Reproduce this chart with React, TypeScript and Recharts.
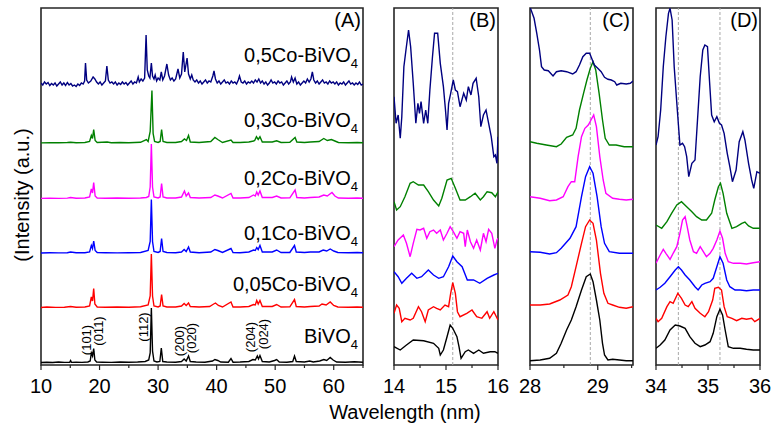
import React from 'react'
import { LineChart, Line, XAxis, YAxis, ReferenceLine, ReferenceArea } from 'recharts'

type Pt = [number, number]

const FONT = '"Liberation Sans", Arial, Helvetica, sans-serif'

// sample names, bottom trace first
const SAMPLES = ['BiVO', '0,05Co-BiVO', '0,1Co-BiVO', '0,2Co-BiVO', '0,3Co-BiVO', '0,5Co-BiVO']
const COLORS = ['#000000', '#ff0000', '#0000ff', '#ff00ff', '#008000', '#000080']

// (A) full pattern: peak height above each trace's own baseline, traces stacked by OFFSETS_A
const OFFSETS_A = [2, 57, 111.5, 166, 221.5, 281]

const aBiVO4: Pt[] = [
  [10, 0.5], [11, 0.8], [12, 0.5], [13, 1], [14, 0.6], [14.9, 0.8], [15.05, 2.5], [15.2, 0.6], [16, 0.8], [17, 0.6],
  [18, 1], [18.4, 2], [18.6, 10], [18.8, 7], [19.0, 14.5], [19.2, 3], [19.5, 1], [20.5, 0.8], [22, 0.6], [23.5, 1],
  [25, 0.8], [26.5, 1], [27.8, 1.5], [28.4, 3], [28.65, 10], [28.85, 55], [29.05, 12], [29.3, 2], [29.8, 1], [30.3, 1.5],
  [30.55, 15], [30.8, 1.5], [31.5, 1], [33, 0.8], [34, 1.5], [34.45, 4], [34.8, 2], [35.2, 7], [35.5, 1.5], [36.5, 1],
  [38, 0.8], [39.3, 2], [39.7, 3.5], [40.2, 2.5], [40.7, 1], [42, 0.8], [42.45, 4.5], [42.8, 0.8], [44, 1], [45.5, 1.5],
  [46.2, 3.5], [46.6, 3], [46.95, 7], [47.15, 4], [47.4, 7.5], [47.8, 1.5], [49, 1], [49.9, 2.5], [50.25, 3.5], [50.7, 1],
  [52, 0.8], [53, 1.5], [53.3, 7], [53.6, 1.5], [55, 1], [55.9, 2], [56.5, 1], [57.6, 2], [58.3, 3.5], [58.8, 2.5],
  [59.4, 5.5], [59.9, 3], [60.5, 1], [62, 0.8], [63.5, 1.2], [65, 0.8],
]

const aCo005: Pt[] = [
  [10, 0.5], [11, 1], [12.5, 0.6], [14, 0.8], [15.05, 1.5], [16, 0.7], [17.5, 1], [18.3, 2], [18.6, 11], [18.8, 7],
  [19.0, 19.5], [19.2, 4], [19.6, 1], [21, 0.8], [23, 1], [25, 0.7], [27, 1.2], [28.3, 3], [28.65, 12], [28.85, 54],
  [29.05, 12], [29.3, 2], [30, 1], [30.35, 2], [30.6, 13.5], [30.85, 2], [31.5, 1], [33, 1], [34, 2], [34.45, 4.5],
  [34.8, 2.5], [35.2, 5], [35.5, 1.5], [37, 1], [38.8, 1.5], [39.5, 4], [39.8, 5], [40.3, 2.5], [41, 1], [42.45, 6],
  [42.8, 1], [44, 1], [45.5, 1.5], [46.3, 3.5], [46.6, 3], [46.85, 7.5], [47.1, 4], [47.4, 7.5], [47.8, 1.5], [49.5, 1.5],
  [50.25, 3.5], [51, 1], [52.5, 1.2], [53.3, 8.5], [53.6, 1.5], [55, 1], [56, 1.5], [57.5, 2], [58, 4], [58.7, 3],
  [59.4, 6], [60, 2.5], [60.7, 1], [62.5, 0.8], [64, 1], [65, 0.8],
]

const aCo01: Pt[] = [
  [10, 0.5], [11.5, 0.8], [13, 0.6], [14.5, 0.8], [15.05, 1.5], [16, 0.7], [17.5, 0.8], [18.3, 1.5], [18.6, 8], [18.8, 5],
  [19.0, 12.5], [19.25, 3], [19.6, 1], [21, 0.8], [23, 0.6], [25, 0.8], [27, 1], [28.3, 3], [28.65, 12], [28.85, 54],
  [29.05, 12], [29.3, 2], [30, 1], [30.35, 2], [30.6, 15], [30.85, 2], [31.5, 1], [33, 0.8], [34, 1.5], [34.45, 4],
  [34.8, 2], [35.2, 6.5], [35.5, 1.5], [37, 0.8], [39, 1.5], [39.7, 4], [40.2, 3], [41, 1], [42.45, 5], [42.8, 1],
  [44, 0.8], [45.5, 1.5], [46.3, 3.5], [46.6, 3], [46.85, 6], [47.1, 4], [47.4, 8], [47.8, 1.5], [49.5, 1.5], [50.25, 3.5],
  [51, 1], [52.5, 1], [53.3, 8], [53.6, 1.5], [55, 1], [56, 1.5], [57.5, 1.5], [58.2, 3.5], [58.8, 2.5], [59.4, 4.5],
  [60, 2.5], [60.7, 1], [62.5, 0.8], [64, 1], [65, 0.8],
]

const aCo02: Pt[] = [
  [10, 0.6], [11.5, 0.8], [13, 0.6], [14.5, 0.9], [15.05, 1.5], [16, 0.7], [17.5, 1], [18.3, 2], [18.6, 10], [18.8, 6],
  [19.0, 16.5], [19.25, 3], [19.6, 1], [21, 0.8], [23, 1], [25, 0.7], [27, 1], [28.0, 1.5], [28.4, 2.5], [28.65, 12],
  [28.85, 55], [29.05, 12], [29.3, 2], [30, 1], [30.35, 2], [30.6, 15.5], [30.85, 2], [31.5, 1], [33, 1], [34, 2],
  [34.5, 8], [34.8, 3], [35.2, 6], [35.5, 1.5], [37, 1], [39, 1.5], [39.7, 4], [40.2, 3], [41, 1], [42.45, 5.5],
  [42.8, 1], [44, 1], [45.5, 1.5], [46.3, 4], [46.6, 3], [46.85, 7], [47.1, 4], [47.4, 8], [47.8, 1.5], [49.5, 1.5],
  [50.25, 3], [51, 1], [52.5, 1.2], [53.4, 9], [53.7, 1.5], [55, 1], [56, 1.5], [57.5, 2], [58.3, 4], [58.9, 3],
  [59.7, 6.5], [60.2, 3], [60.8, 1], [62.5, 0.8], [64, 1], [65, 0.8],
]

const aCo03: Pt[] = [
  [10, 0.6], [11.5, 0.8], [13, 0.7], [14.5, 1], [15.05, 1.2], [16, 0.8], [17.5, 1], [18.3, 2], [18.6, 8], [18.8, 5],
  [19.0, 14], [19.25, 3], [19.6, 1], [21.3, 1.5], [22, 0.8], [23.5, 1], [25, 0.8], [27, 1.2], [28.0, 4], [28.3, 2],
  [28.65, 12], [28.95, 53], [29.15, 10], [29.4, 2], [30, 1], [30.35, 2], [30.6, 14], [30.85, 2], [31.5, 1], [33, 1],
  [34, 2], [34.5, 4.5], [34.85, 3], [35.2, 8], [35.5, 1.5], [37, 1], [39, 2], [39.7, 6], [40.2, 4], [41, 1],
  [42.45, 3.5], [42.8, 1], [44, 1], [45.5, 1.5], [46.3, 2.5], [46.5, 3], [46.8, 6.7], [47.1, 4], [47.4, 6.7], [47.8, 1.5],
  [49.5, 1.5], [50.25, 2.7], [51, 1], [52.5, 1.2], [53.4, 6], [53.7, 1.5], [55, 1], [56, 1.5], [57.5, 2], [58.3, 5],
  [58.9, 3], [59.6, 4], [60.2, 2.5], [60.8, 1], [62.5, 0.8], [64, 1], [65, 0.8],
]

const aCo05: Pt[] = [
  [10, 1], [10.3, -1], [10.6, 2], [10.9, 0], [11.2, 1.5], [11.5, -1.5], [11.8, 0.5], [12.1, -1], [12.4, 1], [12.7, -2],
  [13.0, 0], [13.3, 2], [13.6, -1], [13.9, 1], [14.2, -1.5], [14.5, 1.5], [14.8, -1], [15.1, 0.5], [15.4, -2], [15.7, -1],
  [16.0, -2.5], [16.3, 0], [16.6, -1.5], [16.9, 1], [17.2, 0], [17.45, 3], [17.6, 21], [17.8, 4], [18.1, 1], [18.5, 3],
  [18.9, 7], [19.2, 5], [19.5, 2], [19.8, 0], [20.1, 2], [20.4, -1], [20.7, 1], [21.0, 3], [21.25, 18], [21.5, 4],
  [21.8, 1], [22.1, 2], [22.4, 0], [22.7, 2], [23.0, -1], [23.3, 1], [23.6, -0.5], [23.9, 2], [24.2, 0], [24.5, 1.5],
  [24.8, -1], [25.1, 1], [25.4, 3], [25.7, 0], [26.0, 2], [26.3, 1], [26.6, 7], [26.8, 2], [27.1, 5], [27.4, 3],
  [27.7, 6], [27.95, 49], [28.15, 14], [28.4, 8], [28.6, 6], [28.85, 21], [29.05, 8], [29.3, 5], [29.5, 9], [29.75, 3],
  [30.0, 6], [30.3, 4], [30.55, 12], [30.8, 4], [31.1, 8], [31.5, 20], [31.8, 9], [32.1, 4], [32.4, 6], [32.7, 3],
  [33.0, 5], [33.4, 15], [33.7, 6], [34.0, 10], [34.3, 32], [34.55, 12], [34.95, 26], [35.2, 10], [35.5, 5], [35.75, 9],
  [36.0, 4], [36.3, 2], [36.6, 4], [36.9, 1], [37.2, 3], [37.5, 0], [37.8, 2], [38.1, 4], [38.4, 1], [38.7, 3],
  [39.0, 2], [39.35, 8], [39.55, 13], [39.8, 5], [40.1, 1], [40.4, 3], [40.7, 0], [41.0, 2], [41.3, 4], [41.6, 1],
  [41.9, 2], [42.2, 0], [42.5, 3], [42.8, 1], [43.1, 2], [43.4, 0], [43.7, 4], [43.9, 8], [44.2, 2], [44.5, 1],
  [44.8, 3], [45.1, 0], [45.4, 2], [45.7, 1], [46.0, 3], [46.3, 1], [46.6, 4], [46.9, 2], [47.2, 5], [47.5, 1],
  [47.8, 3], [48.1, 0], [48.4, 2], [48.7, -1], [49.0, 1], [49.3, 4], [49.6, 1], [49.9, 2], [50.2, 0], [50.5, 3],
  [50.8, 1], [51.1, 2], [51.4, -1], [51.7, 1], [52.0, 3], [52.3, 0], [52.6, 2], [52.8, 7], [53.1, 2], [53.4, 6],
  [53.7, 0], [54.0, 2], [54.3, -1], [54.6, 1], [54.9, 3], [55.2, 1], [55.5, 5], [55.8, 2], [56.1, 5], [56.35, 12],
  [56.6, 4], [56.9, 1], [57.2, 3], [57.5, 0], [57.8, 2], [58.1, 4], [58.4, 1], [58.7, 2], [59.0, 0], [59.3, 3],
  [59.6, 1], [59.9, 2], [60.2, 0], [60.5, 2], [60.8, -1], [61.1, 1], [61.4, 0], [61.7, 2], [62.0, -1], [62.3, 1],
  [62.6, 3], [62.9, 0], [63.2, 1], [63.5, -1], [63.8, 1], [64.1, -0.5], [64.4, 2], [64.7, -1], [65, 0],
]

// (B) 14-16 zoom, stacked intensities as plotted
const bBiVO4: Pt[] = [
  [14.0, 18.3], [14.12, 15], [14.24, 20], [14.37, 25], [14.57, 24.3], [14.76, 21.7], [14.86, 16.7], [14.89, 10],
  [14.95, 15], [15.02, 28.3], [15.08, 40], [15.13, 36.7], [15.21, 28.3], [15.25, 18.3], [15.29, 6.7], [15.37, 13.3],
  [15.43, 15], [15.53, 11.7], [15.63, 15], [15.72, 11.7], [15.85, 13.3], [15.94, 13.3], [16.0, 11.7],
]
const bCo005: Pt[] = [
  [14.0, 51.7], [14.05, 60], [14.1, 56.7], [14.15, 43.3], [14.21, 46.7], [14.31, 45], [14.37, 46.7], [14.47, 58.3],
  [14.53, 53.3], [14.6, 43.3], [14.66, 55], [14.76, 58.3], [14.82, 56.7], [14.89, 55], [14.98, 60], [15.05, 58.3],
  [15.09, 71.7], [15.13, 82.3], [15.18, 71.7], [15.22, 53.3], [15.27, 48.3], [15.4, 51.7], [15.5, 55], [15.59, 48.3],
  [15.69, 46.7], [15.79, 53.3], [15.84, 46.7], [15.92, 53.3], [16.0, 45],
]
const bCo01: Pt[] = [
  [14.0, 93.3], [14.08, 88.3], [14.15, 81.7], [14.24, 86.7], [14.34, 91.7], [14.44, 86.7], [14.53, 88.3], [14.66, 95],
  [14.76, 90], [14.86, 86.7], [14.95, 88.3], [15.05, 98.3], [15.13, 109], [15.21, 103.3], [15.31, 98.3], [15.41, 85],
  [15.53, 85], [15.65, 81.7], [15.79, 86.7], [15.92, 90], [16.0, 91.7],
]
const bCo02: Pt[] = [
  [14.0, 118.3], [14.08, 125], [14.18, 130], [14.24, 121.7], [14.31, 108.3], [14.37, 121.7], [14.44, 135.7], [14.5, 135],
  [14.57, 136.7], [14.63, 126.7], [14.69, 133.3], [14.76, 135], [14.82, 131.7], [14.89, 135], [14.95, 125], [15.02, 131.7],
  [15.08, 138.3], [15.14, 133.3], [15.21, 126.7], [15.27, 133.3], [15.34, 131.7], [15.37, 118.3], [15.41, 135], [15.47, 123.3],
  [15.53, 116.7], [15.59, 125], [15.66, 115], [15.72, 131.7], [15.77, 123.3], [15.82, 135.7], [15.88, 131.7], [15.94, 116.7],
  [15.98, 125], [16.0, 126.7],
]
const bCo03: Pt[] = [
  [14.0, 163.3], [14.05, 155], [14.12, 158.3], [14.21, 168.3], [14.31, 181.7], [14.37, 183.3], [14.47, 180], [14.57, 180],
  [14.66, 173.3], [14.76, 165], [14.86, 159], [14.92, 166.7], [15.02, 185], [15.1, 186.7], [15.18, 176.7], [15.27, 165],
  [15.37, 165], [15.47, 168.3], [15.56, 171.7], [15.66, 165], [15.72, 168.3], [15.79, 173.3], [15.88, 172.3], [15.95, 168.3],
  [16.0, 173.3],
]
const bCo05: Pt[] = [
  [14.0, 268.3], [14.04, 241.7], [14.08, 250], [14.12, 226.7], [14.15, 248.3], [14.19, 298.3], [14.23, 315], [14.28, 335],
  [14.32, 318.3], [14.37, 281.7], [14.42, 241.7], [14.46, 261.7], [14.49, 251.7], [14.52, 263.3], [14.57, 241.7], [14.61, 255],
  [14.65, 241.7], [14.69, 275], [14.74, 308.3], [14.78, 331.7], [14.84, 331.7], [14.89, 301.7], [14.95, 278.3], [14.99, 255],
  [15.02, 235], [15.05, 261.7], [15.09, 271.7], [15.14, 285], [15.18, 275], [15.22, 273.3], [15.27, 258.3], [15.34, 271.7],
  [15.39, 265], [15.43, 278.3], [15.48, 270], [15.52, 281.7], [15.58, 286.7], [15.63, 268.3], [15.67, 238.3], [15.72, 250],
  [15.77, 255], [15.82, 241.7], [15.87, 228.3], [15.92, 208.3], [15.95, 210], [15.98, 201.7], [16.0, 228.3],
]

// (C) 28-29.5 zoom
const cBiVO4: Pt[] = [
  [28.0, 4.3], [28.15, 5], [28.29, 6.7], [28.39, 11.7], [28.46, 21.7], [28.54, 35], [28.61, 45], [28.68, 58.3],
  [28.76, 75], [28.83, 88.3], [28.89, 91], [28.93, 83.3], [28.98, 65], [29.03, 45], [29.07, 21.7], [29.1, 10],
  [29.15, 5], [29.22, 5.7], [29.32, 5], [29.42, 4.3], [29.52, 4.3],
]
const cCo005: Pt[] = [
  [28.0, 60], [28.15, 60], [28.29, 61], [28.44, 65], [28.56, 70], [28.61, 78.3], [28.68, 98.3], [28.76, 121.7],
  [28.82, 138.3], [28.88, 145], [28.93, 141.7], [28.98, 125], [29.04, 91.7], [29.09, 71.7], [29.15, 61.7], [29.22, 60],
  [29.32, 57.7], [29.42, 56.7], [29.52, 58.3],
]
const cCo01: Pt[] = [
  [28.0, 113.3], [28.15, 112.7], [28.29, 111], [28.39, 112.3], [28.46, 116.7], [28.59, 126.7], [28.68, 138.3], [28.76, 168.3],
  [28.82, 188.3], [28.88, 198.3], [28.93, 191.7], [28.99, 168.3], [29.05, 138.3], [29.1, 121.7], [29.17, 113.3], [29.32, 111.7],
  [29.52, 111.7],
]
const cCo02: Pt[] = [
  [28.0, 168.3], [28.15, 166.7], [28.29, 164.3], [28.39, 165], [28.49, 168.3], [28.56, 178.3], [28.61, 183.3], [28.66, 183.3],
  [28.71, 208.3], [28.76, 228.3], [28.81, 236.7], [28.86, 240], [28.9, 245], [28.94, 250], [28.98, 238.3], [29.03, 208.3],
  [29.08, 185], [29.12, 171.7], [29.22, 166.7], [29.32, 165.7], [29.42, 165], [29.52, 165.7],
]
const cCo03: Pt[] = [
  [28.0, 223.3], [28.1, 221.7], [28.24, 220], [28.39, 218.3], [28.46, 221], [28.54, 227.7], [28.63, 230], [28.68, 236.7],
  [28.73, 255], [28.79, 271.7], [28.84, 285], [28.89, 296.7], [28.93, 303.3], [28.97, 295], [29.02, 271.7], [29.07, 245],
  [29.11, 226.7], [29.17, 220], [29.27, 220], [29.39, 218.3], [29.52, 218.3],
]
const cCo05: Pt[] = [
  [28.0, 358], [28.06, 346.7], [28.1, 331.7], [28.14, 315], [28.17, 298.3], [28.21, 295], [28.27, 294.3], [28.34, 289],
  [28.39, 293.3], [28.46, 294.3], [28.54, 293.3], [28.63, 291], [28.68, 293.3], [28.73, 300], [28.78, 308.3], [28.83, 311.7],
  [28.88, 311.7], [28.92, 305], [28.95, 300], [29.0, 296.7], [29.05, 293.3], [29.1, 287.7], [29.15, 285.7], [29.2, 285],
  [29.25, 283.3], [29.28, 280], [29.34, 281.7], [29.42, 281], [29.48, 281.7], [29.52, 284],
]

// (D) 34-36 zoom
const dBiVO4: Pt[] = [
  [34.0, 16.7], [34.08, 20], [34.17, 25], [34.27, 35], [34.37, 40], [34.46, 39], [34.56, 36.7], [34.65, 28.3],
  [34.75, 21.7], [34.85, 18.3], [34.94, 20], [35.04, 23.3], [35.1, 31.7], [35.17, 48.3], [35.23, 55.7], [35.28, 50],
  [35.33, 35], [35.39, 18.3], [35.49, 16.7], [35.62, 16.7], [35.74, 15.7], [35.87, 15], [36.0, 15],
]
const dCo005: Pt[] = [
  [34.0, 46.7], [34.04, 43.3], [34.11, 46.7], [34.21, 58.3], [34.27, 63.3], [34.33, 61.7], [34.42, 71.7], [34.49, 66.7],
  [34.56, 60], [34.62, 58.3], [34.69, 63.3], [34.75, 56.7], [34.85, 51.7], [34.94, 48.3], [35.01, 53.3], [35.09, 65],
  [35.13, 76.7], [35.2, 77.7], [35.26, 75], [35.31, 58.3], [35.37, 48.3], [35.46, 46.7], [35.55, 44.3], [35.65, 46.7],
  [35.74, 45.7], [35.84, 46.7], [35.9, 43.3], [36.0, 46.7],
]
const dCo01: Pt[] = [
  [34.0, 75], [34.08, 77.7], [34.17, 81.7], [34.27, 88.3], [34.37, 95], [34.43, 98.3], [34.49, 95], [34.56, 90],
  [34.65, 85], [34.75, 78.3], [34.81, 75], [34.88, 80], [34.94, 81.7], [35.04, 83.3], [35.1, 86.7], [35.17, 98.3],
  [35.23, 108.3], [35.29, 101.7], [35.36, 85], [35.42, 78.3], [35.52, 75], [35.62, 75], [35.74, 74.3], [35.87, 75],
  [36.0, 75],
]
const dCo02: Pt[] = [
  [34.0, 101.7], [34.08, 110], [34.14, 115.7], [34.19, 111.7], [34.27, 105.7], [34.33, 111.7], [34.4, 118.3], [34.46, 131.7],
  [34.51, 145], [34.56, 148.3], [34.6, 138.3], [34.65, 125], [34.72, 113.3], [34.78, 111.7], [34.85, 118.3], [34.91, 113.3],
  [34.97, 108.3], [35.04, 111.7], [35.1, 116.7], [35.17, 125], [35.23, 134], [35.28, 126.7], [35.33, 111.7], [35.39, 103.3],
  [35.49, 101.7], [35.62, 101.7], [35.74, 101], [35.87, 102.3], [36.0, 103.3],
]
const dCo03: Pt[] = [
  [34.0, 140], [34.11, 136.7], [34.21, 143.3], [34.3, 151.7], [34.4, 160], [34.49, 163.3], [34.59, 158.3], [34.69, 153.3],
  [34.78, 148.3], [34.88, 145], [34.97, 145], [35.07, 151.7], [35.13, 165], [35.2, 178.3], [35.24, 181.7], [35.29, 171.7],
  [35.36, 151.7], [35.46, 136.7], [35.55, 138.3], [35.65, 141.7], [35.71, 143], [35.78, 139], [35.87, 136.7], [36.0, 136.7],
]
const dCo05: Pt[] = [
  [34.0, 220], [34.04, 228.3], [34.09, 255], [34.14, 298.3], [34.19, 328.3], [34.24, 351.7], [34.27, 356.7], [34.31, 345],
  [34.35, 298.3], [34.41, 255], [34.46, 220], [34.51, 221.7], [34.55, 218.3], [34.59, 208.3], [34.63, 188.3], [34.69, 201.7],
  [34.75, 205], [34.79, 238.3], [34.85, 288.3], [34.9, 315], [34.94, 320], [34.99, 318.3], [35.03, 283.3], [35.07, 250],
  [35.12, 243.3], [35.17, 248.3], [35.22, 241.7], [35.26, 240], [35.31, 231.7], [35.37, 211.7], [35.42, 198.3], [35.47, 183.3],
  [35.54, 195], [35.6, 223.3], [35.67, 233.3], [35.71, 225], [35.78, 201.7], [35.84, 185], [35.88, 176.7], [35.94, 193.3],
  [36.0, 191.7],
]

const TICKS_A = [10, 15, 20, 25, 30, 35, 40, 45, 50, 55, 60, 65]
const LABELS_A = [10, 20, 30, 40, 50, 60]
const TICKS_B = [14, 14.5, 15, 15.5, 16]
const LABELS_B = [14, 15, 16]
const TICKS_C = [28, 28.5, 29, 29.5]
const LABELS_C = [28, 29]
const TICKS_D = [34, 34.5, 35, 35.5, 36]
const LABELS_D = [34, 35, 36]

const REF_B = [15.13]
const REF_C = [28.89]
const REF_D = [34.43, 35.23]

const HKL = ['(101)', '(011)', '(112)', '(200)', '(020)', '(204)', '(024)']

// layout
const PLOT_TOP = 8
const PLOT_H = 357
const PAD = 16
const Y_TICKS = [47, 91, 136, 181, 225, 270, 315]

const toRows = (pts: Pt[], off = 0) => pts.map(([x, y]) => ({ x, y: y + off }))

interface PanelProps {
  left: number
  width: number
  domain: [number, number]
  ticks: number[]
  labels: number[]
  series: Pt[][]
  offsets?: number[]
  refs?: number[]
}

function Panel({ left, width, domain, ticks, labels, series, offsets, refs = [] }: PanelProps) {
  const xTick = (p: any) => {
    const major = labels.includes(p.payload.value)
    return (
      <g>
        <line x1={p.x} x2={p.x} y1={p.y} y2={p.y + (major ? 5 : 3)} stroke="#222" strokeWidth={1.2} />
        {major && (
          <text x={p.x} y={p.y + 28} textAnchor="middle" fontSize={20} fill="#000">
            {p.payload.value}
          </text>
        )}
      </g>
    )
  }
  const yTick = (p: any) => <line x1={p.x} x2={p.x + 3} y1={p.y} y2={p.y} stroke="#222" strokeWidth={1} />

  return (
    <div style={{ position: 'absolute', left: left - PAD, top: PLOT_TOP - 2 }}>
      <LineChart width={width + PAD * 2} height={PLOT_H + 2 + 36} margin={{ top: 2, right: PAD, bottom: 0, left: PAD }}>
        <XAxis
          type="number"
          dataKey="x"
          domain={domain}
          ticks={ticks}
          interval={0}
          allowDataOverflow
          height={36}
          axisLine={false}
          tickLine={false}
          tickSize={0}
          tickMargin={0}
          tick={xTick}
        />
        <YAxis
          type="number"
          domain={[0, PLOT_H]}
          allowDataOverflow
          width={0}
          ticks={Y_TICKS}
          interval={0}
          axisLine={false}
          tickLine={false}
          tickSize={0}
          tickMargin={0}
          tick={yTick}
        />
        {refs.map((x) => (
          <ReferenceLine key={x} x={x} stroke="#a8a8a8" strokeDasharray="3 2" strokeWidth={1} />
        ))}
        {series.map((s, i) => (
          <Line
            key={i}
            data={toRows(s, offsets ? offsets[i] : 0)}
            dataKey="y"
            stroke={COLORS[i]}
            strokeWidth={1.4}
            dot={false}
            isAnimationActive={false}
          />
        ))}
        <ReferenceArea x1={domain[0]} x2={domain[1]} y1={0} y2={PLOT_H} fill="none" stroke="#262626" strokeWidth={1.6} />
      </LineChart>
    </div>
  )
}

// text positions in page pixels
const SAMPLE_BASELINES = [343, 291, 240, 185, 127, 62]
const HKL_POS: [number, number][] = [[86, 340], [98.5, 331], [143, 327], [179, 341], [191.5, 338], [250.5, 337], [263, 334]]
const PANEL_TAGS: [string, number][] = [['(A)', 361], ['(B)', 496], ['(C)', 630], ['(D)', 758]]

export default function App() {
  return (
    <div style={{ position: 'absolute', left: 0, top: 0, width: 772, height: 434, background: '#fff', fontFamily: FONT }}>
      <Panel left={41} width={322} domain={[10, 65]} ticks={TICKS_A} labels={LABELS_A}
        series={[aBiVO4, aCo005, aCo01, aCo02, aCo03, aCo05]} offsets={OFFSETS_A} />
      <Panel left={394} width={104} domain={[14, 16]} ticks={TICKS_B} labels={LABELS_B}
        series={[bBiVO4, bCo005, bCo01, bCo02, bCo03, bCo05]} refs={REF_B} />
      <Panel left={530} width={103} domain={[28, 29.52]} ticks={TICKS_C} labels={LABELS_C}
        series={[cBiVO4, cCo005, cCo01, cCo02, cCo03, cCo05]} refs={REF_C} />
      <Panel left={656} width={104} domain={[34, 36]} ticks={TICKS_D} labels={LABELS_D}
        series={[dBiVO4, dCo005, dCo01, dCo02, dCo03, dCo05]} refs={REF_D} />

      <svg width={772} height={434} style={{ position: 'absolute', left: 0, top: 0, pointerEvents: 'none' }}>
        {SAMPLES.map((name, i) => (
          <text key={name} x={358} y={SAMPLE_BASELINES[i]} textAnchor="end" fontSize={20} fill="#000">
            {name}
            <tspan fontSize={13} dy={6}>4</tspan>
          </text>
        ))}
        {HKL.map((t, i) => (
          <text key={t} transform={`translate(${HKL_POS[i][0]},${HKL_POS[i][1]}) rotate(-90)`}
            textAnchor="middle" dominantBaseline="central" fontSize={13} fill="#000">
            {t}
          </text>
        ))}
        {PANEL_TAGS.map(([t, x]) => (
          <text key={t} x={x} y={27} textAnchor="end" fontSize={20} fill="#000">{t}</text>
        ))}
        <text x={405} y={419} textAnchor="middle" fontSize={20} fill="#000">Wavelength (nm)</text>
        <text transform="translate(22,195) rotate(-90)" textAnchor="middle" dominantBaseline="central" fontSize={20} fill="#000">
          (Intensity (a.u.)
        </text>
      </svg>
    </div>
  )
}
